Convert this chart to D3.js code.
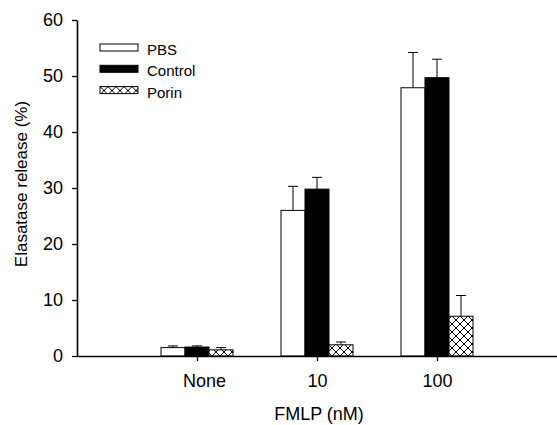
<!DOCTYPE html>
<html>
<head>
<meta charset="utf-8">
<script src="https://cdn.jsdelivr.net/npm/d3@7"></script>
<style>
  body { margin: 0; background: #fff; }
  svg { font-family: "Liberation Sans", Arial, sans-serif; }
</style>
</head>
<body>
<div id="chart"></div>
<script>
// data
var categories = ["None", "10", "100"];
var series = ["PBS", "Control", "Porin"];
var pbsValues = [1.5, 26.0, 47.9];
var pbsErrors = [0.3, 4.3, 6.3];
var controlValues = [1.6, 29.8, 49.7];
var controlErrors = [0.2, 2.1, 3.3];
var porinValues = [1.1, 2.0, 7.1];
var porinErrors = [0.4, 0.5, 3.7];
var yTicks = [0, 10, 20, 30, 40, 50, 60];

var width = 557, height = 425;
var margin = {top: 20, right: 0, bottom: 69, left: 77};

var svg = d3.select("#chart").append("svg")
  .attr("width", width)
  .attr("height", height);

// crosshatch for Porin
var defs = svg.append("defs");
var pat = defs.append("pattern")
  .attr("id", "hatch")
  .attr("patternUnits", "userSpaceOnUse")
  .attr("width", 8)
  .attr("height", 8);
pat.append("rect").attr("width", 8).attr("height", 8).attr("fill", "#fff");
pat.append("path").attr("d", "M0,0L8,8M8,0L0,8").attr("stroke", "#000").attr("stroke-width", 1);

var fills = {PBS: "#fff", Control: "#000", Porin: "url(#hatch)"};
var rows = {
  PBS: {v: pbsValues, e: pbsErrors},
  Control: {v: controlValues, e: controlErrors},
  Porin: {v: porinValues, e: porinErrors}
};

var x = d3.scalePoint()
  .domain(categories)
  .range([margin.left, width - margin.right])
  .padding(1);
var x1 = d3.scaleBand()
  .domain(series)
  .range([-36, 36]);
var y = d3.scaleLinear()
  .domain([0, 60])
  .range([height - margin.bottom, margin.top]);

var data = [];
series.forEach(function(s) {
  categories.forEach(function(c, i) {
    data.push({s: s, c: c, v: rows[s].v[i], e: rows[s].e[i]});
  });
});

function cx(d) { return x(d.c) + x1(d.s) + x1.bandwidth() / 2; }

// error bars (upward only), drawn before bars
var eb = svg.append("g").attr("stroke", "#000").attr("stroke-width", 1);
eb.selectAll("line.v").data(data).enter().append("line")
  .attr("class", "v")
  .attr("x1", cx)
  .attr("x2", cx)
  .attr("y1", function(d) { return y(d.v); })
  .attr("y2", function(d) { return y(d.v + d.e); });
eb.selectAll("line.cap").data(data).enter().append("line")
  .attr("class", "cap")
  .attr("x1", function(d) { return cx(d) - 5; })
  .attr("x2", function(d) { return cx(d) + 5; })
  .attr("y1", function(d) { return y(d.v + d.e); })
  .attr("y2", function(d) { return y(d.v + d.e); });

svg.append("g").selectAll("rect").data(data).enter().append("rect")
  .attr("x", function(d) { return x(d.c) + x1(d.s); })
  .attr("y", function(d) { return y(d.v); })
  .attr("width", x1.bandwidth())
  .attr("height", function(d) { return y(0) - y(d.v); })
  .attr("fill", function(d) { return fills[d.s]; })
  .attr("stroke", "#000")
  .attr("stroke-width", 1);

// axes
var yAxis = svg.append("g")
  .attr("transform", "translate(" + margin.left + ",0)")
  .call(d3.axisLeft(y).tickValues(yTicks).tickSize(5).tickPadding(9).tickSizeOuter(0));
var xAxis = svg.append("g")
  .attr("transform", "translate(0," + y(0) + ")")
  .call(d3.axisBottom(x).tickSize(5).tickPadding(13).tickSizeOuter(0));
[yAxis, xAxis].forEach(function(a) {
  a.select(".domain").attr("stroke-width", 1.6);
  a.selectAll(".tick line").attr("stroke-width", 1.3);
  a.selectAll("text").attr("font-size", 18).attr("fill", "#000").attr("font-family", "Liberation Sans, Arial, sans-serif");
});
xAxis.selectAll(".tick text").filter(function(d) { return d === "None"; }).attr("dx", 7);

svg.append("text")
  .attr("transform", "translate(27,184) rotate(-90)")
  .attr("text-anchor", "middle")
  .attr("font-size", 17)
  .text("Elasatase release (%)");

svg.append("text")
  .attr("x", 319)
  .attr("y", 420)
  .attr("text-anchor", "middle")
  .attr("font-size", 18)
  .text("FMLP (nM)");

// legend
var lg = svg.append("g").attr("transform", "translate(100,44)");
var li = lg.selectAll("g").data(series).enter().append("g")
  .attr("transform", function(d, i) { return "translate(0," + i * 21.3 + ")"; });
li.append("rect")
  .attr("width", 38).attr("height", 7)
  .attr("fill", function(d) { return fills[d]; })
  .attr("stroke", "#000").attr("stroke-width", 1);
li.append("text")
  .attr("x", 47).attr("y", 11)
  .attr("font-size", 15)
  .text(function(d) { return d; });
</script>
</body>
</html>
